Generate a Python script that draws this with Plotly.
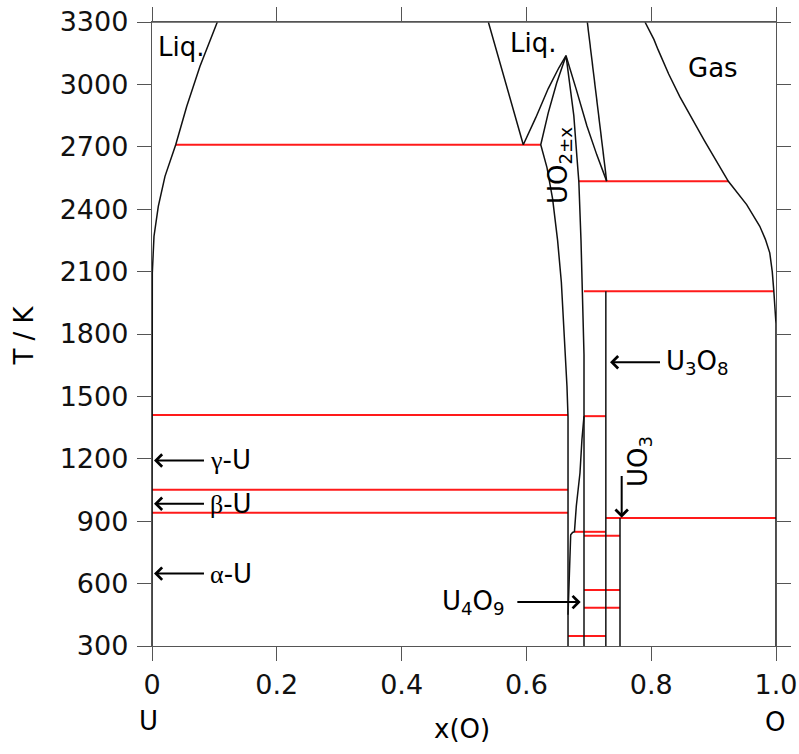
import plotly.graph_objects as go

FONT = "DejaVu Sans"

# ---------------- data ----------------
# U-rich liquid boundary (joins pure U at x=0)
liqU_x = [0.0, 0.0, 0.0005, 0.0032, 0.0101, 0.0208, 0.038, 0.0556, 0.0769, 0.1047]
liqU_T = [300, 2000, 2094, 2270, 2414, 2558, 2710, 2894, 3087, 3300]

# UO2(+/-x) boundary: hypo side, solidus, peak, hyper side
uo2_x = [0.6667, 0.6667, 0.665, 0.661, 0.656, 0.650, 0.642, 0.633, 0.623,
         0.635, 0.6485, 0.6635, 0.670, 0.676, 0.681, 0.684, 0.6875, 0.690, 0.6923, 0.6923]
uo2_T = [300, 1400, 1550, 1800, 2050, 2250, 2450, 2600, 2710,
         2863, 3007, 3138, 3000, 2850, 2650, 2534, 2250, 2000, 1700, 1405]

# U4O9 line
u4o9_x = [0.6923, 0.6923]
u4o9_T = [300, 1405]

# O-rich liquid: left branch from top, liquidus to peak, right liquidus
liqO_x = [0.539, 0.595, 0.615, 0.635, 0.652, 0.6635, 0.680, 0.697, 0.713, 0.7286]
liqO_T = [3300, 2710, 2840, 2980, 3080, 3138, 2975, 2800, 2660, 2535]

# line from the top to the liquidus vertex
liqtop_x = [0.6976, 0.7286]
liqtop_T = [3300, 2535]

# U3O8 and UO3 compounds
u3o8_x = [0.7273, 0.7273]
u3o8_T = [300, 2006]
uo3_x = [0.75, 0.75]
uo3_T = [300, 915]

# UO2+x / U4O9 boundary
uo2x_x = [0.6667, 0.668, 0.6688, 0.6695, 0.671, 0.674, 0.677, 0.680, 0.6859, 0.689, 0.6923]
uo2x_T = [450, 600, 700, 800, 835, 846, 849, 973, 1133, 1293, 1405]

# gas boundary
gas_x = [0.790, 0.8045, 0.811, 0.828, 0.846, 0.885, 0.9236, 0.953, 0.974, 0.983,
         0.990, 0.994, 0.9965, 0.9985, 1.0, 1.0]
gas_T = [3300, 3215, 3167, 3050, 2940, 2731, 2534, 2422, 2318, 2255,
         2190, 2100, 2006, 1930, 1850, 300]

# invariant (red) lines
inv_T = [2710, 2534, 2006, 1410, 1405, 1051, 941, 915, 849, 830, 569, 484, 348]
inv_x0 = [0.038, 0.684, 0.6923, 0.0, 0.6923, 0.0, 0.0, 0.7273, 0.677, 0.6923, 0.6923, 0.6923, 0.6667]
inv_x1 = [0.623, 0.9236, 0.9965, 0.6667, 0.7273, 0.6667, 0.6667, 1.0, 0.7273, 0.75, 0.75, 0.75, 0.7273]

x_ticks = [0, 0.2, 0.4, 0.6, 0.8, 1.0]
x_ticktext = ["0", "0.2", "0.4", "0.6", "0.8", "1.0"]
y_ticks = [300, 600, 900, 1200, 1500, 1800, 2100, 2400, 2700, 3000, 3300]

# ---------------- figure ----------------
fig = go.Figure()

rx, ry = [], []
for t, a, b in zip(inv_T, inv_x0, inv_x1):
    rx += [a, b, None]
    ry += [t, t, None]
fig.add_trace(go.Scatter(x=rx, y=ry, mode="lines",
                         line=dict(color="#ff1a1a", width=2), hoverinfo="skip"))

black = dict(color="#111111", width=1.5)
for xs, ts in [(liqU_x, liqU_T), (uo2_x, uo2_T), (u4o9_x, u4o9_T), (liqO_x, liqO_T),
               (liqtop_x, liqtop_T), (u3o8_x, u3o8_T), (uo3_x, uo3_T),
               (uo2x_x, uo2x_T), (gas_x, gas_T)]:
    fig.add_trace(go.Scatter(x=xs, y=ts, mode="lines", line=black, hoverinfo="skip"))

ann = []
TXT = dict(family=FONT, size=26, color="black")

def label(x, y, text, angle=0, ref="data"):
    d = dict(x=x, y=y, text=text, showarrow=False, textangle=angle,
             xanchor="center", yanchor="middle", font=TXT)
    if ref == "paper":
        d.update(xref="paper", yref="paper")
    ann.append(d)

def arrow_label(text, tipx, tipy, tx, ty, anchor, pad):
    # text box sits at the arrow tail; arrow runs from the box edge to the tip
    ann.append(dict(x=tipx, y=tipy, ax=tx, ay=ty, axref="x", ayref="y", text=text,
                    xanchor=anchor, yanchor="middle", font=TXT, borderpad=pad,
                    showarrow=True, arrowhead=4, arrowwidth=2, arrowsize=1.2,
                    arrowcolor="black", standoff=0))

def arrow(x, y, ax, ay):
    ann.append(dict(x=x, y=y, ax=ax, ay=ay, axref="x", ayref="y", text="",
                    showarrow=True, arrowhead=4, arrowwidth=2, arrowsize=1.2,
                    arrowcolor="black", standoff=0))

greek = '<span style="font-family:Liberation Serif">%s</span>-U'
label(0.0457, 3181, "Liq.")
label(0.610, 3200, "Liq.")
label(0.8995, 3078, "Gas")
label(0.6530, 2610, "UO<sub>2±x</sub>", angle=-90)
label(0.7804, 1189, "UO<sub>3</sub>", angle=-90)

arrow_label(greek % "γ", 0.0032, 1192, 0.0833, 1192, "left", 5)
arrow_label(greek % "β", 0.0032, 984, 0.0833, 984, "left", 5)
arrow_label(greek % "α", 0.0032, 648, 0.0833, 648, "left", 5)
arrow_label("U<sub>4</sub>O<sub>9</sub>", 0.687, 511, 0.5855, 511, "right", 11)
arrow_label("U<sub>3</sub>O<sub>8</sub>", 0.734, 1664, 0.8141, 1664, "left", 5)
arrow(0.7527, 917, 0.7527, 1125)

label(-0.205, 0.4976, "T / K", angle=-90, ref="paper")
label(0.4963, -0.1334, "x(O)", ref="paper")
label(-0.0056, -0.1206, "U", ref="paper")
label(0.9979, -0.122, "O", ref="paper")

AX_COL = "#555555"
axis_common = dict(showgrid=False, zeroline=False, showline=True, linecolor=AX_COL,
                   linewidth=1.4, mirror="ticks", ticks="outside", ticklen=14,
                   tickwidth=1.4, tickcolor=AX_COL, automargin=False,
                   ticklabeloverflow="allow",
                   tickfont=dict(family=FONT, size=27, color="#111111"))

fig.update_layout(
    width=799, height=754, autosize=False,
    margin=dict(l=152, r=23, t=22, b=107.5),
    paper_bgcolor="white", plot_bgcolor="white",
    showlegend=False,
    xaxis=dict(range=[0, 1], tickvals=x_ticks, ticktext=x_ticktext, **axis_common),
    yaxis=dict(range=[300, 3300], tickvals=y_ticks, ticklabelstandoff=3, **axis_common),
    annotations=ann,
    shapes=[dict(type="line", xref="paper", yref="paper", x0=0, x1=1, y0=1, y1=1,
                 line=dict(color=AX_COL, width=1.4), layer="above")],
)

# remove the default page margin so the figure sits at the window's top-left corner
fig.write_html("out.html", config={"displayModeBar": False},
               post_script="document.body.style.margin='0px';")
